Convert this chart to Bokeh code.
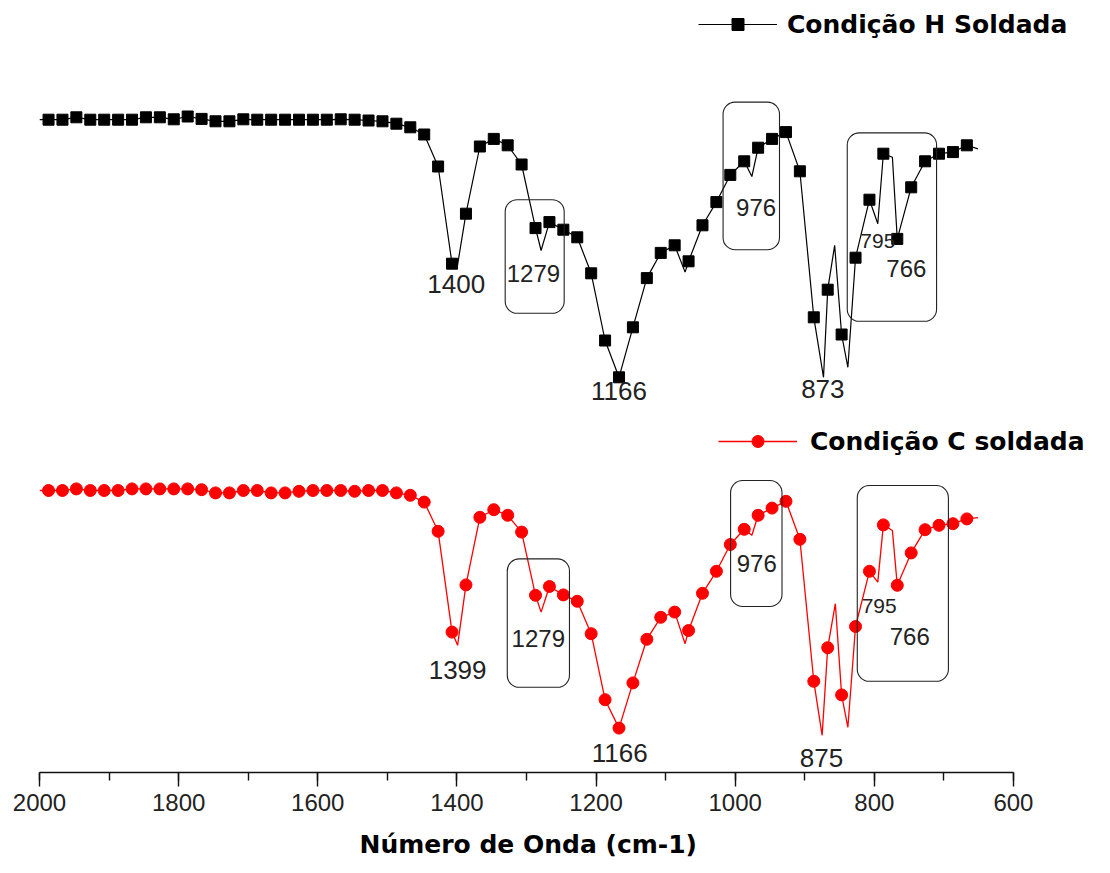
import numpy as np
from bokeh.plotting import figure
from bokeh.models import Range1d, SingleIntervalTicker, Legend, LegendItem, ColumnDataSource, Title
from bokeh.core.properties import value
from bokeh.embed import file_html
from bokeh.resources import INLINE

# Wavenumbers of the plotted symbols (cm-1), one every 20 cm-1
marker_wn = np.arange(1987, 660, -20)

# Transmittance (a.u.) at the symbol positions, spectra stacked with an offset
H_T = [163.2, 163.2, 163.8, 163.2, 163.2, 163.2, 163.2, 163.8, 163.8, 163.3,
       164.0, 163.4, 162.8, 162.8, 163.3, 163.2, 163.2, 163.2, 163.2, 163.2,
       163.2, 163.3, 163.2, 163.0, 162.8, 162.2, 161.3, 159.5, 151.5, 127.2,
       139.7, 156.5, 158.4, 156.8, 152.0, 136.1, 137.6, 135.7, 133.8, 124.8,
       108.0, 98.8, 111.3, 123.6, 129.9, 131.8, 127.8, 136.8, 142.6, 149.4,
       152.8, 156.2, 158.4, 160.1, 150.3, 113.8, 120.7, 109.5, 128.7, 143.2,
       154.7, 133.4, 146.3, 152.8, 154.7, 155.1, 156.8]
C_T = [70.5, 70.5, 70.9, 70.5, 70.5, 70.5, 70.9, 70.9, 70.9, 70.9,
       70.9, 70.7, 69.9, 69.9, 70.5, 70.5, 69.9, 69.9, 70.3, 70.5,
       70.5, 70.5, 70.3, 70.5, 70.5, 69.9, 69.3, 67.6, 60.3, 35.1,
       46.9, 63.8, 65.7, 64.3, 60.1, 44.3, 46.5, 44.4, 42.8, 34.7,
       18.2, 11.1, 22.4, 33.3, 38.8, 40.1, 35.5, 44.8, 50.3, 57.0,
       60.8, 64.3, 66.1, 67.8, 58.3, 22.8, 31.2, 19.4, 36.5, 50.3,
       61.9, 46.8, 54.9, 60.7, 61.8, 62.2, 63.4]

# Additional spectrum points between symbols (band minima, shoulders, ends)
H_extra_wn = [2000, 1400, 1279, 1072, 976, 873, 857, 838, 795, 774, 651]
H_extra_T = [163.2, 125.9, 130.5, 125.1, 149.0, 98.8, 131.8, 101.3, 137.2, 153.8, 155.9]
C_extra_wn = [2000, 1399, 1279, 1072, 976, 875, 856, 838, 795, 774, 651]
C_extra_T = [70.5, 31.8, 40.1, 32.2, 59.3, 9.3, 42.2, 11.3, 47.6, 60.5, 63.7]

# Band assignments
H_label_text = ["1400", "1279", "1166", "976", "873", "795", "766"]
C_label_text = ["1399", "1279", "1166", "976", "875", "795", "766"]

# Label placement
H_label_x = [1401, 1290, 1167, 970, 874, 795, 754]
H_label_y = [122.25, 124.75, 95.5, 141.25, 96.0, 133.0, 126.1]
C_label_x = [1399, 1283, 1166, 969, 876, 793, 749]
C_label_y = [25.75, 33.5, 5.0, 52.25, 3.6, 41.75, 34.0]
label_size = ["26px", "24px", "26px", "24px", "26px", "21px", "24px"]

# Highlight frames around the bands of interest
H_box_left = [1330.6, 1017.4, 838.9]
H_box_right = [1245.8, 936.3, 710.5]
H_box_top = [143.2, 167.6, 159.9]
H_box_bottom = [114.8, 130.7, 112.8]
C_box_left = [1327.6, 1006.6, 824.5]
C_box_right = [1238.2, 932.7, 693.5]
C_box_top = [53.4, 73.0, 71.75]
C_box_bottom = [21.3, 41.5, 22.8]


def full_curve(wn_a, t_a, wn_b, t_b):
    wn = np.concatenate([np.asarray(wn_a, float), np.asarray(wn_b, float)])
    t = np.concatenate([np.asarray(t_a, float), np.asarray(t_b, float)])
    order = np.argsort(-wn)
    return wn[order], t[order]


# The frame runs to the right edge so the legends have room; the axis stops at 600
p = figure(width=1110, height=873, x_range=Range1d(2000, 460.5), y_range=Range1d(0, 193),
           output_backend="svg", toolbar_location=None,
           min_border_left=39, min_border_right=0, min_border_top=0, min_border_bottom=101)
p.yaxis.visible = False
p.grid.visible = False
p.outline_line_color = None
p.background_fill_color = "white"
p.border_fill_color = "white"

ax = p.xaxis[0]
ax.bounds = (600, 2000)
ax.ticker = SingleIntervalTicker(interval=200, num_minor_ticks=2)
ax.axis_line_color = "#111111"
ax.axis_line_width = 1.6
ax.major_tick_line_color = "#111111"
ax.major_tick_line_width = 1.4
ax.minor_tick_line_color = "#111111"
ax.minor_tick_line_width = 1.4
ax.major_tick_in = 0
ax.major_tick_out = 14
ax.minor_tick_in = 0
ax.minor_tick_out = 8
ax.major_label_text_font = "Liberation Sans"
ax.major_label_text_font_size = "24px"
ax.major_label_text_color = "#222222"
ax.major_label_standoff = 7

# Axis title centred under the 2000-600 span
x_title = Title(text="Número de Onda (cm-1)", align="left", offset=320, standoff=28,
                vertical_align="bottom", text_font="DejaVu Sans", text_font_style="bold",
                text_font_size="25px", text_color="#000000")
p.add_layout(x_title, "below")

# Spectrum H (black squares)
wn_H, t_H = full_curve(marker_wn, H_T, H_extra_wn, H_extra_T)
line_H = p.line(wn_H, t_H, line_color="black", line_width=1.2)
pts_H = p.scatter(marker_wn, H_T, marker="square", size=11, fill_color="black", line_color="black")

# Spectrum C (red circles)
wn_C, t_C = full_curve(marker_wn, C_T, C_extra_wn, C_extra_T)
line_C = p.line(wn_C, t_C, line_color="#ff0000", line_width=1.3)
pts_C = p.scatter(marker_wn, C_T, marker="circle", size=12, fill_color="#ff0000", line_color="#ff0000")

# Band frames
box_src = ColumnDataSource(dict(left=H_box_left + C_box_left, right=H_box_right + C_box_right,
                                top=H_box_top + C_box_top, bottom=H_box_bottom + C_box_bottom))
p.quad(left="left", right="right", top="top", bottom="bottom", source=box_src,
       fill_color=None, line_color="#222222", line_width=1.1, border_radius=12)

# Band labels
lab_src = ColumnDataSource(dict(x=H_label_x + C_label_x, y=H_label_y + C_label_y,
                                text=H_label_text + C_label_text, size=label_size + label_size))
p.text(x="x", y="y", text="text", source=lab_src, text_font=value("Liberation Sans"),
       text_font_size="size", text_align="center", text_baseline="middle", text_color="#222222")

# Legends
leg_common = dict(padding=0, margin=0, spacing=0, border_line_alpha=0, background_fill_alpha=0,
                  glyph_width=79, glyph_height=30, label_text_font="DejaVu Sans",
                  label_text_font_style="bold", label_text_font_size="25px",
                  label_text_color="#000000")
leg_H = Legend(items=[LegendItem(label="Condição H Soldada", renderers=[line_H, pts_H])],
               location=(659, 733), label_standoff=10, **leg_common)
leg_C = Legend(items=[LegendItem(label="Condição C soldada", renderers=[line_C, pts_C])],
               location=(679, 316), label_standoff=13, **leg_common)
p.add_layout(leg_H)
p.add_layout(leg_C)

open("out.html", "w").write(file_html(p, INLINE))
